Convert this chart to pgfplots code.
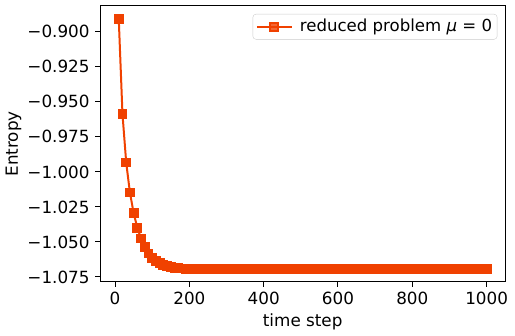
\documentclass[border=0pt]{standalone}
\usepackage{pgfplots}
\pgfplotsset{compat=1.18}
\usepackage{fontspec}
\setmainfont{DejaVu Sans}
\definecolor{oc}{RGB}{240,65,0}
\begin{document}
\fontsize{16.8}{19}\selectfont
\begin{tikzpicture}
\begin{axis}[
  scale only axis, width=405pt, height=276pt,
  xmin=-39.5, xmax=1049.5, ymin=-1.0784, ymax=-0.8816,
  xtick={0,200,400,600,800,1000},
  xticklabels={0,200,400,600,800,1000},
  ytick={-1.075,-1.05,-1.025,-1.0,-0.975,-0.95,-0.925,-0.9},
  yticklabels={−1.075,−1.050,−1.025,−1.000,−0.975,−0.950,−0.925,−0.900},
  /pgf/number format/assume math mode=true,
  tick align=outside, tick pos=left, major tick length=5pt,
  every tick/.style={black, line width=1pt},
  axis line style={line width=1pt},
  tick label style={font=\fontsize{16.8}{19}\selectfont},
  label style={font=\fontsize{16.8}{19}\selectfont},
  xlabel={time step}, ylabel={Entropy},
  xlabel style={yshift=3pt},
  ylabel style={at={(axis description cs:-0.2148,0.5)}, anchor=center},
  legend style={at={(0.981,0.971)}, anchor=north east, draw=black!20, rounded corners=3pt,
    fill=white, fill opacity=0.8, text opacity=1, font=\fontsize{16.6}{19}\selectfont,
    inner xsep=3pt, inner ysep=3pt,
    /tikz/every odd column/.append style={column sep=5pt}},
  legend cell align=left,
  legend image code/.code={\draw[mark repeat=2,mark phase=2] plot coordinates {(0pt,0pt) (17.5pt,0pt) (35pt,0pt)};},
]
\addplot[color=oc, line width=2pt, mark=square*, mark size=3.9pt, mark options={solid}] coordinates {
(10,-0.8910) (20,-0.9588) (30,-0.9933) (40,-1.0147) (50,-1.0293)
(60,-1.0400) (70,-1.0476) (80,-1.0536) (90,-1.0583) (100,-1.0614)
(110,-1.0637) (120,-1.0653) (130,-1.0665) (140,-1.0673) (150,-1.0679)
(160,-1.0684) (170,-1.0687) (180,-1.0689) (190,-1.0691) (200,-1.0692)
(210,-1.0693) (220,-1.0694) (230,-1.0694) (240,-1.0695) (250,-1.0695)
(260,-1.0695) (270,-1.0695) (280,-1.0695) (290,-1.0695) (300,-1.0695)
(310,-1.0695) (320,-1.0695) (330,-1.0695) (340,-1.0695) (350,-1.0695)
(360,-1.0695) (370,-1.0695) (380,-1.0695) (390,-1.0695) (400,-1.0695)
(410,-1.0695) (420,-1.0695) (430,-1.0695) (440,-1.0695) (450,-1.0695)
(460,-1.0695) (470,-1.0695) (480,-1.0695) (490,-1.0695) (500,-1.0695)
(510,-1.0695) (520,-1.0695) (530,-1.0695) (540,-1.0695) (550,-1.0695)
(560,-1.0695) (570,-1.0695) (580,-1.0695) (590,-1.0695) (600,-1.0695)
(610,-1.0695) (620,-1.0695) (630,-1.0695) (640,-1.0695) (650,-1.0695)
(660,-1.0695) (670,-1.0695) (680,-1.0695) (690,-1.0695) (700,-1.0695)
(710,-1.0695) (720,-1.0695) (730,-1.0695) (740,-1.0695) (750,-1.0695)
(760,-1.0695) (770,-1.0695) (780,-1.0695) (790,-1.0695) (800,-1.0695)
(810,-1.0695) (820,-1.0695) (830,-1.0695) (840,-1.0695) (850,-1.0695)
(860,-1.0695) (870,-1.0695) (880,-1.0695) (890,-1.0695) (900,-1.0695)
(910,-1.0695) (920,-1.0695) (930,-1.0695) (940,-1.0695) (950,-1.0695)
(960,-1.0695) (970,-1.0695) (980,-1.0695) (990,-1.0695) (1000,-1.0695)
};
\legend{reduced problem {\itshape μ} = 0}
\end{axis}
\path ([shift={(-100pt,-47pt)}]current axis.south west) rectangle ([shift={(10pt,6pt)}]current axis.north east);
\end{tikzpicture}
\end{document}
